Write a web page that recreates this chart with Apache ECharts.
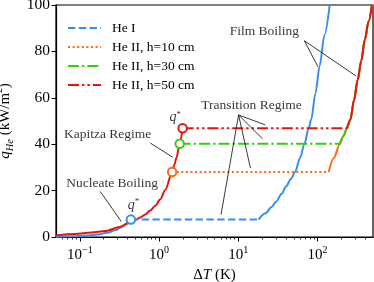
<!DOCTYPE html>
<html>
<head>
<meta charset="utf-8">
<script src="https://cdn.jsdelivr.net/npm/echarts@6/dist/echarts.min.js"></script>
<style>
html,body{margin:0;padding:0;background:#fff;}
#chart{width:374px;height:282px;}
</style>
</head>
<body>
<div id="chart"></div>
<script>
// ---- data (ΔT in K, q in kW/m^2) ----
const heINucleate = [[0.05,0.15],[0.08,0.3],[0.12,0.6],[0.17,1.1],[0.22,1.8],[0.28,2.9],[0.33,4.1],[0.38,5.6],[0.44,7.5]];
const heIFilm = [[18,7.5],[22,10.2],[26,12.8],[30,15.2],[35,18.5],[40,21.8],[46,25],[52,28],[60,34],[68,40],[77,46.9],[83,50.5],[94,62],[106,73.7],[122,87],[142,100]];
const heIIKapitza = [[0.05,0.7],[0.087,1.3],[0.14,1.9],[0.21,2.6],[0.32,4.3],[0.433,6.3],[0.5,7.3],[0.579,8.4],[0.669,9.7],[0.774,11.4],[0.895,13.5],[1.035,16.3],[1.197,20.3],[1.46,28],[1.56,31.2],[1.65,34],[1.82,40.2],[1.98,46.9]];
const heIIFilm10 = [[138,28],[160,34],[190,40],[212,43.5],[235,46.9],[259,50.5],[288,59],[320,67.7],[356,76],[394,85],[440,93],[485,100]];
const heIIFilm30 = [[190,40],[212,43.5],[235,46.9],[259,50.5],[288,59],[320,67.7],[356,76],[394,85],[440,93],[485,100]];
const heIIFilm50 = [[235,46.9],[259,50.5],[288,59],[320,67.7],[356,76],[394,85],[440,93],[485,100]];
const heIPlateau = [[0.44,7.5],[18,7.5]];
const h10Plateau = [[1.46,28],[138,28]];
const h30Plateau = [[1.82,40.2],[190,40.2]];
const h50Plateau = [[1.98,46.9],[235,46.9]];
const qStarHeI = [[0.44,7.5]];
const qStar10 = [[1.46,28]];
const qStar30 = [[1.82,40.2]];
const qStar50 = [[1.98,46.9]];
const seriesNames = ['He I','He II, h=10 cm','He II, h=30 cm','He II, h=50 cm'];
const xMajorTicks = [0.1,1,10,100];
const xMinorTicks = [0.06,0.07,0.08,0.09,0.2,0.3,0.4,0.5,0.6,0.7,0.8,0.9,2,3,4,5,6,7,8,9,20,30,40,50,60,70,80,90,200,300,400];
const yTicks = [0,20,40,60,80,100];
// annotation texts [x, y, text]
const annotTexts = [[21.3,88.4,'Film Boiling'],[14.66,56.5,'Transition Regime'],[0.224,44.0,'Kapitza Regime'],[0.255,23.2,'Nucleate Boiling']];
const qStarLabels = [[0.475,13.6],[1.6,51.4]];
// arrows [[x1,y1],[x2,y2]]
const arrows = [
  [[68,84.6],[101,73.4]],
  [[68,84.6],[305,69.4]],
  [[10.07,52.6],[21.9,48.3]],
  [[10.07,52.6],[20.2,42.3]],
  [[10.07,52.6],[14.2,29.7]],
  [[10.07,52.6],[6.04,9.6]],
  [[0.774,40.5],[1.48,34.4]],
  [[0.181,19.6],[0.333,6.7]]
];

const BLUE = '#3a8ee8', ORANGE = '#ff6a10', GREEN = '#3acc10', RED = '#e8140c';
const FONT = 'Liberation Serif';
const DASHES = [[7.4,3.4],[2,2.6],[11,3,2.4,3],[11,3,2.4,3,2.4,3]];
const COLORS = [BLUE, ORANGE, GREEN, RED];

function solid(data, color, z) {
  return {type:'line', data:data, showSymbol:false, symbol:'none', smooth:0.3, smoothMonotone:'x',
    lineStyle:{color:color,width:2}, itemStyle:{color:color}, z:z, silent:true, legendHoverLink:false};
}
function plateau(i, data) {
  return {name:seriesNames[i], type:'line', data:data, showSymbol:false, symbol:'none',
    lineStyle:{color:COLORS[i],width:2,type:DASHES[i]}, itemStyle:{color:COLORS[i]}, z:3, silent:true};
}
function circle(data, color) {
  return {type:'scatter', data:data, symbol:'circle', symbolSize:8.5,
    itemStyle:{color:'#fff', borderColor:color, borderWidth:2, opacity:1}, z:6, silent:true};
}

const chart = echarts.init(document.getElementById('chart'), null, {renderer:'canvas'});
const option = {
  animation:false,
  backgroundColor:'#fff',
  textStyle:{fontFamily:FONT},
  grid:{left:56, top:5, width:317, height:232, containLabel:false, outerBoundsMode:'none',
    show:true, borderColor:'#000', borderWidth:1.2, backgroundColor:'#fff'},
  legend:{
    data:seriesNames.map(function(n,i){ return {name:n, itemStyle:{opacity:0}, lineStyle:{type:DASHES[i], width:2, color:COLORS[i]}}; }),
    orient:'vertical', left:62, top:16, itemWidth:33, itemHeight:14, itemGap:5,
    itemStyle:{opacity:0},
    textStyle:{fontFamily:FONT, fontSize:13.5, color:'#000', padding:[0,0,0,6]}, selectedMode:false
  },
  xAxis:[{
    type:'log', min:0.05, max:500, gridIndex:0, position:'bottom',
    axisLine:{show:true, lineStyle:{color:'#000', width:1.2}},
    axisTick:{show:true, inside:false, length:4.5, lineStyle:{color:'#000', width:1}, customValues:xMajorTicks},
    axisLabel:{show:true, margin:8, customValues:xMajorTicks, color:'#000',
      formatter:function(v){ const e = Math.round(Math.log10(v)); return '{b|10}{s|' + (e<0 ? '\u2212'+(-e) : e) + '}'; },
      rich:{b:{fontFamily:FONT, fontSize:15, lineHeight:21, color:'#000'}, s:{fontFamily:FONT, fontSize:10, verticalAlign:'top', color:'#000'}}},
    splitLine:{show:false}, minorTick:{show:false},
    name:'{n|\u0394}{i|T}{n| (K)}', nameLocation:'middle', nameGap:30,
    nameTextStyle:{rich:{n:{fontFamily:FONT, fontSize:15, color:'#000'}, i:{fontFamily:FONT, fontSize:15, fontStyle:'italic', color:'#000'}}}
  },{
    type:'log', min:0.05, max:500, gridIndex:0, position:'bottom',
    axisLine:{show:false},
    axisTick:{show:true, inside:false, length:2.5, lineStyle:{color:'#000', width:0.8}, customValues:xMinorTicks},
    axisLabel:{show:false}, splitLine:{show:false}
  }],
  yAxis:{
    type:'value', min:0, max:100, interval:20,
    axisLine:{show:true, lineStyle:{color:'#000', width:1.2}},
    axisTick:{show:true, inside:false, length:4.5, lineStyle:{color:'#000', width:1}},
    axisLabel:{color:'#000', fontFamily:FONT, fontSize:15.5, margin:6},
    splitLine:{show:false},
    name:'{i|q}{sub|He}{n| (kW/m}{sup|2}{n|)}', nameLocation:'middle', nameGap:33, nameRotate:90,
    nameTextStyle:{rich:{
      i:{fontFamily:FONT, fontSize:15, fontStyle:'italic', lineHeight:21, color:'#000'},
      n:{fontFamily:FONT, fontSize:15, lineHeight:21, color:'#000'},
      sub:{fontFamily:FONT, fontSize:10.5, fontStyle:'italic', verticalAlign:'bottom', color:'#000'},
      sup:{fontFamily:FONT, fontSize:9.5, verticalAlign:'top', color:'#000'}}}
  },
  series:[
    solid(heINucleate, BLUE, 2),
    solid(heIFilm, BLUE, 2),
    solid(heIIFilm10, ORANGE, 2),
    solid(heIIFilm30, GREEN, 2.1),
    solid(heIIFilm50, RED, 2.2),
    solid(heIIKapitza, RED, 2.3),
    plateau(0, heIPlateau),
    plateau(1, h10Plateau),
    plateau(2, h30Plateau),
    plateau(3, h50Plateau),
    circle(qStarHeI, BLUE), circle(qStar10, ORANGE), circle(qStar30, GREEN), circle(qStar50, RED),
    {type:'scatter', data:annotTexts, symbolSize:0, z:7, silent:true,
      label:{show:true, position:'inside', formatter:function(p){return p.data[2];}, fontFamily:FONT, fontSize:13.5, color:'#000'}},
    {type:'scatter', data:qStarLabels, symbolSize:0, z:7, silent:true,
      label:{show:true, position:'inside', formatter:'{q|q}{s|*}',
        rich:{q:{fontFamily:FONT, fontSize:14, fontStyle:'italic', lineHeight:16, color:'#000'}, s:{fontFamily:FONT, fontSize:9, verticalAlign:'top', color:'#000'}}}},
    {type:'line', data:[], z:8, silent:true,
      markLine:{silent:true, symbol:['none','arrow'], symbolSize:[0,7], animation:false,
        label:{show:false}, emphasis:{disabled:true},
        lineStyle:{color:'#222', width:0.9, type:'solid'},
        data:arrows.map(function(a){return [{coord:a[0]},{coord:a[1]}];})}}
  ]
};
chart.setOption(option);
</script>
</body>
</html>
